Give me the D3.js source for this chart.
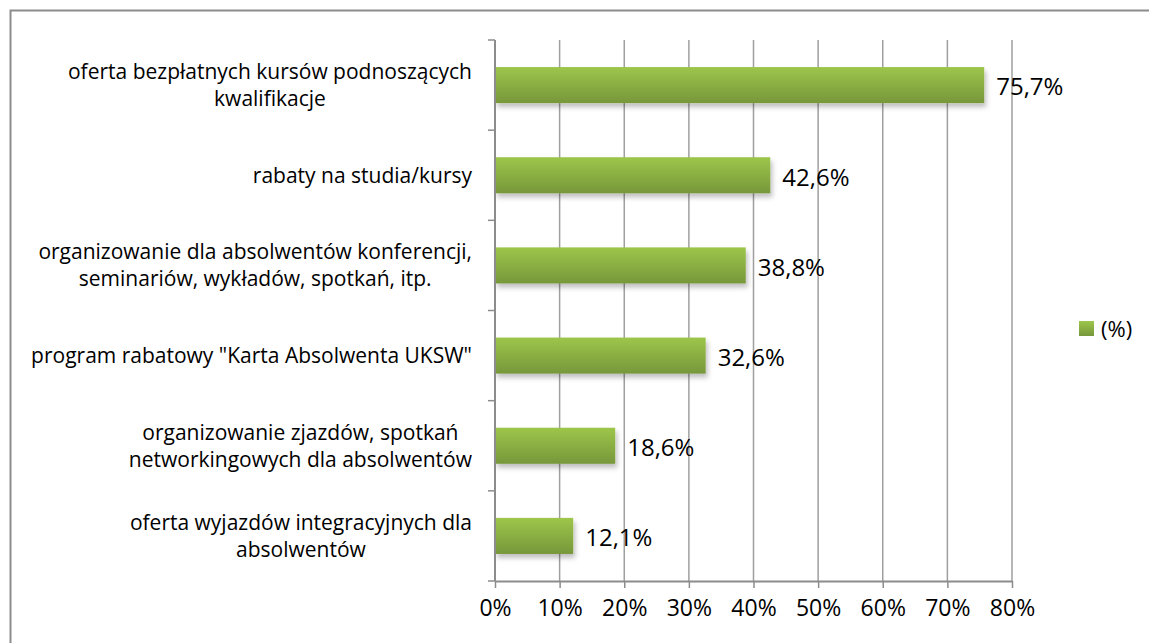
<!DOCTYPE html>
<html>
<head>
<meta charset="utf-8">
<script src="https://cdn.jsdelivr.net/npm/d3@7"></script>
<style>
  body { margin: 0; background: #fff; }
  svg { display: block; font-family: "Open Sans", "Noto Sans", sans-serif; }
</style>
</head>
<body>
<svg id="chart" width="1149" height="643"></svg>
<script>
// data
const categories = [
  ["oferta bezpłatnych kursów podnoszących", "kwalifikacje"],
  ["rabaty na studia/kursy"],
  ["organizowanie dla absolwentów konferencji,", "seminariów, wykładów, spotkań, itp."],
  ["program rabatowy \"Karta Absolwenta UKSW\""],
  ["organizowanie zjazdów, spotkań", "networkingowych dla absolwentów"],
  ["oferta wyjazdów integracyjnych dla", "absolwentów"]
]
const values = [75.7, 42.6, 38.8, 32.6, 18.6, 12.1]
const ticks = [0, 10, 20, 30, 40, 50, 60, 70, 80]
const seriesName = "(%)"

const svg = d3.select("#chart")
const margin = {left: 495, top: 40, right: 136, bottom: 62}
const W = 1149, H = 643

// outer frame (runs off the right and bottom edges)
svg.append("rect")
  .attr("x", 10.5).attr("y", 10.5)
  .attr("width", W).attr("height", H)
  .attr("fill", "none").attr("stroke", "#8c8c8c").attr("stroke-width", 2)

const x = d3.scaleLinear().domain([0, 80]).range([margin.left, W - margin.right - 1])
const y = d3.scaleBand().domain(d3.range(categories.length))
  .range([margin.top, H - margin.bottom]).paddingInner(0.6).paddingOuter(0.3)

const defs = svg.append("defs")
const grad = defs.append("linearGradient").attr("id", "barGrad")
  .attr("x1", 0).attr("y1", 0).attr("x2", 0).attr("y2", 1)
grad.append("stop").attr("offset", "0%").attr("stop-color", "#9dc64b")
grad.append("stop").attr("offset", "100%").attr("stop-color", "#77973a")

const shadow = defs.append("filter").attr("id", "shadow")
  .attr("x", "-5%").attr("y", "-20%").attr("width", "115%").attr("height", "160%")
shadow.append("feDropShadow").attr("dx", 2).attr("dy", 4).attr("stdDeviation", 2.5)
  .attr("flood-color", "#000").attr("flood-opacity", 0.25)

// gridlines
svg.append("g").selectAll("line").data(ticks.slice(1)).join("line")
  .attr("x1", d => x(d)).attr("x2", d => x(d))
  .attr("y1", margin.top).attr("y2", H - margin.bottom)
  .attr("stroke", "#9f9f9f").attr("stroke-width", 1.5)

// bars
svg.append("g").selectAll("rect").data(values).join("rect")
  .attr("x", x(0)).attr("y", (d, i) => y(i))
  .attr("width", d => x(d) - x(0)).attr("height", y.bandwidth())
  .attr("fill", "url(#barGrad)")
  .attr("filter", "url(#shadow)")

// bottom axis
const xAxis = svg.append("g")
  .attr("transform", `translate(0,${H - margin.bottom})`)
  .call(d3.axisBottom(x).tickValues(ticks).tickFormat(d => d + "%").tickSize(7).tickSizeOuter(0))
xAxis.select(".domain").attr("stroke", "#8c8c8c").attr("stroke-width", 2)
xAxis.selectAll(".tick line").attr("stroke", "#8c8c8c").attr("stroke-width", 1.5)
xAxis.selectAll(".tick text").attr("font-size", 23).attr("fill", "#000")
  .attr("font-family", "'Open Sans', sans-serif").attr("dy", "1.1em")

// left axis line and category boundary ticks
svg.append("line")
  .attr("x1", x(0)).attr("x2", x(0))
  .attr("y1", margin.top).attr("y2", H - margin.bottom)
  .attr("stroke", "#8c8c8c").attr("stroke-width", 2)
const step = y.step()
svg.append("g").selectAll("line").data(d3.range(categories.length + 1)).join("line")
  .attr("x1", x(0) - 7).attr("x2", x(0))
  .attr("y1", i => margin.top + i * step).attr("y2", i => margin.top + i * step)
  .attr("stroke", "#8c8c8c").attr("stroke-width", 1.5)

// category labels: block right-aligned, lines centred within the block
const labelRight = x(0) - 23
const lineH = 27
const labels = svg.append("g")
categories.forEach((lines, i) => {
  const g = labels.append("g")
  const cy = y(i) + y.bandwidth() / 2
  const texts = lines.map((t, k) => g.append("text")
    .attr("font-size", 21).attr("fill", "#000")
    .attr("y", cy + (k - (lines.length - 1) / 2) * lineH)
    .attr("dy", "0.35em").attr("text-anchor", "middle").text(t))
  const wMax = d3.max(texts, t => t.node().getComputedTextLength())
  texts.forEach(t => t.attr("x", labelRight - wMax / 2))
})

// value labels
svg.append("g").selectAll("text").data(values).join("text")
  .attr("x", d => x(d) + 12)
  .attr("y", (d, i) => y(i) + y.bandwidth() / 2 + 2)
  .attr("dy", "0.35em").attr("font-size", 24).attr("fill", "#000")
  .text(d => d.toFixed(1).replace(".", ",") + "%")

// legend
const leg = svg.append("g").attr("transform", "translate(1079,321)")
leg.append("rect").attr("width", 15).attr("height", 15).attr("fill", "url(#barGrad)")
leg.append("text").attr("x", 22).attr("y", 8).attr("dy", "0.35em")
  .attr("font-size", 22).attr("fill", "#000").text(seriesName)
</script>
</body>
</html>
